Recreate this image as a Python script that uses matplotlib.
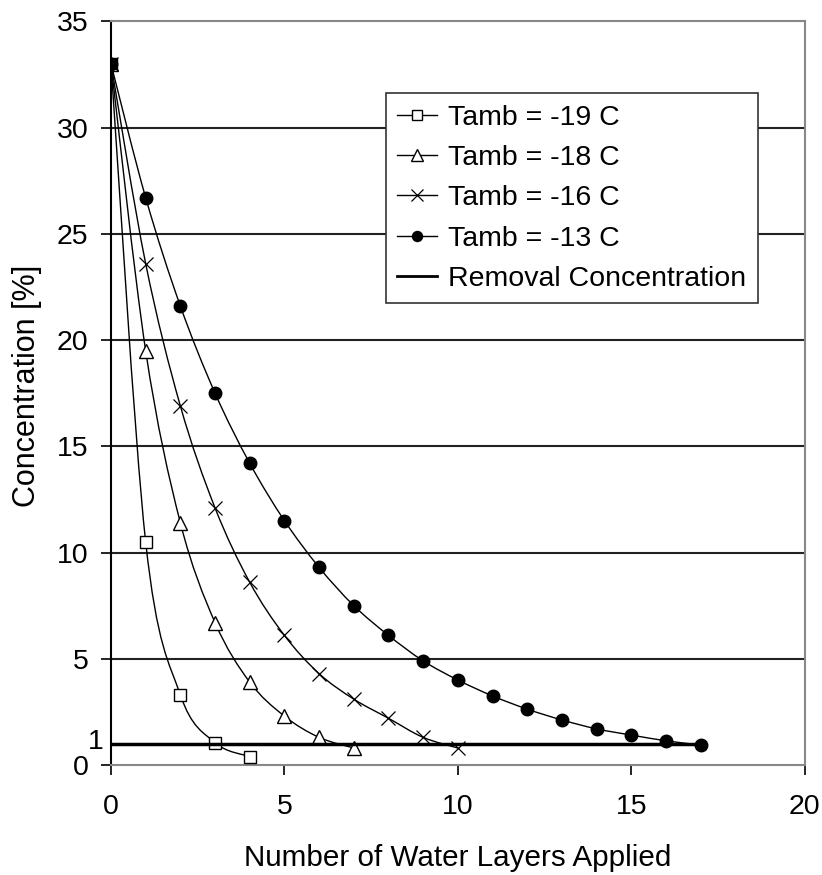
import numpy as np
import matplotlib.pyplot as plt
from matplotlib.path import Path
from matplotlib.patches import PathPatch
from matplotlib.lines import Line2D

plt.rcParams['font.family'] = ['Liberation Sans', 'DejaVu Sans']

# data
x_19 = [0, 1, 2, 3, 4]
c_19 = [33, 10.5, 3.3, 1.05, 0.4]

x_18 = [0, 1, 2, 3, 4, 5, 6, 7]
c_18 = [33, 19.5, 11.4, 6.7, 3.9, 2.3, 1.3, 0.8]

x_16 = [0, 1, 2, 3, 4, 5, 6, 7, 8, 9, 10]
c_16 = [33, 23.6, 16.9, 12.1, 8.6, 6.1, 4.3, 3.1, 2.2, 1.3, 0.8]

x_13 = list(range(18))
c_13 = [33, 26.7, 21.6, 17.5, 14.2, 11.5, 9.3, 7.5, 6.1, 4.9, 4.0,
        3.25, 2.63, 2.12, 1.7, 1.41, 1.14, 0.94]

removal_x = [0, 17]
removal_c = [1, 1]

labels = ['Tamb = -19 C', 'Tamb = -18 C', 'Tamb = -16 C', 'Tamb = -13 C']


def smooth_path(xs, ys):
    # Excel-like smoothed line: cubic bezier through every point
    p = np.column_stack([xs, ys]).astype(float)
    n = len(p)
    verts = [p[0]]
    codes = [Path.MOVETO]
    for i in range(n - 1):
        p0 = p[i - 1] if i > 0 else p[i]
        p1 = p[i]
        p2 = p[i + 1]
        p3 = p[i + 2] if i + 2 < n else p[i + 1]
        c1 = p1 + (p2 - p0) / 6.0
        c2 = p2 - (p3 - p1) / 6.0
        verts += [c1, c2, p2]
        codes += [Path.CURVE4] * 3
    return Path(verts, codes)


fig = plt.figure(figsize=(8.22, 8.75), dpi=100)
ax = fig.add_axes([0.135, 0.1257, 0.844, 0.850])

ax.set_xlim(0, 20)
ax.set_ylim(0, 35)

for g in [5, 10, 15, 20, 25, 30]:
    ax.axhline(g, color='#222222', lw=1.5, zorder=1)

series = [
    (x_19, c_19, dict(marker='s', mfc='white', ms=9)),
    (x_18, c_18, dict(marker='^', mfc='white', ms=10)),
    (x_16, c_16, dict(marker='x', ms=10, mew=0.9)),
    (x_13, c_13, dict(marker='o', mfc='black', ms=9)),
]

handles = []
for (xs, ys, mk), lab in zip(series, labels):
    ax.add_patch(PathPatch(smooth_path(xs, ys), fill=False, ec='black', lw=1.0, zorder=3))
    ax.plot(xs, ys, ls='none', color='black', mec='black', zorder=4, **mk)
    handles.append(Line2D([], [], color='black', lw=1.0, mec='black', label=lab,
                          **{k: (v * 0.8 if k == 'ms' else v) for k, v in mk.items()}))

ax.plot(removal_x, removal_c, color='black', lw=2.5, zorder=5)
handles.append(Line2D([], [], color='black', lw=2.0, label='Removal Concentration'))

leg = ax.legend(handles=handles, loc='upper left', bbox_to_anchor=(0.396, 0.903),
                borderaxespad=0, frameon=True, fancybox=False, edgecolor='#333333',
                fontsize=20.5, handlelength=1.4, handletextpad=0.4, labelspacing=0.5,
                borderpad=0.4, framealpha=1)
leg.get_frame().set_linewidth(1.2)
leg.set_zorder(10)

ax.set_xticks([0, 5, 10, 15, 20])
ax.set_yticks([0, 5, 10, 15, 20, 25, 30, 35])
ax.tick_params(axis='both', direction='out', length=7, width=1.2, labelsize=20.5, color='black')
ax.tick_params(axis='y', pad=9)
ax.tick_params(axis='x', pad=14)
ax.text(-0.01, 1.1, '1', transform=ax.get_yaxis_transform(), ha='right', va='center', fontsize=20.5)

ax.spines['left'].set_color('black')
ax.spines['left'].set_linewidth(1.5)
for s in ['top', 'right', 'bottom']:
    ax.spines[s].set_color('#888888')
    ax.spines[s].set_linewidth(1.5)

ax.set_xlabel('Number of Water Layers Applied', fontsize=21.3, labelpad=17)
ax.set_ylabel('Concentration [%]', fontsize=22, labelpad=10)
ax.yaxis.set_label_coords(-0.10, 0.51)

fig.savefig('out.png', dpi=100)
